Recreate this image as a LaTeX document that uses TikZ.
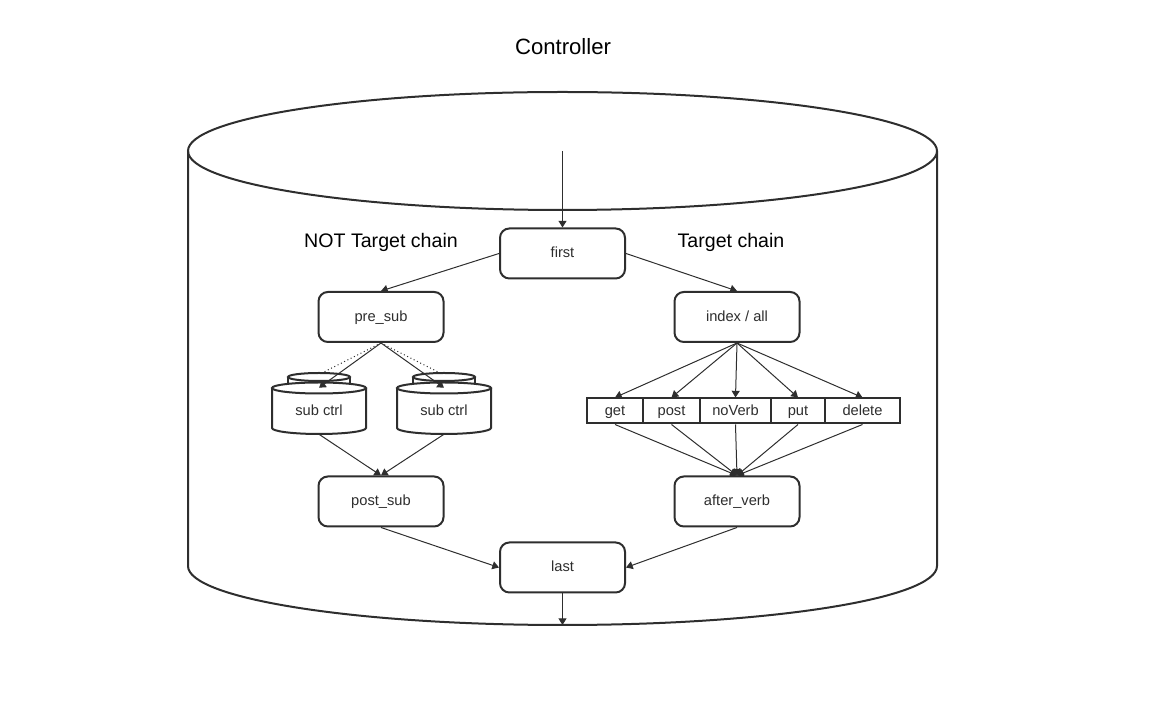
\documentclass[tikz,border=0pt]{standalone}
\usepackage{fontspec}
\setmainfont{Liberation Sans}
\usetikzlibrary{arrows.meta}
\definecolor{ink}{HTML}{2E2E2E}
\begin{document}
\begin{tikzpicture}[x=0.75pt,y=-0.75pt,
  line/.style={draw=ink, line width=0.75pt},
  arr/.style={line, -{Triangle[length=5pt,width=6pt]}},
  dots/.style={draw=ink, line width=0.75pt, dotted},
  shell/.style={draw=ink, line width=1.5pt},
  label/.style={font=\fontsize{11}{13}\selectfont, text=ink, text height=1.6ex, text depth=0.4ex},
  box/.style={shell, label, rounded corners=7pt, fill=white, minimum width=93.75pt,
    minimum height=37.5pt, inner sep=0pt},
  cell/.style={shell, label, fill=white, minimum height=18.75pt, inner sep=0pt},
  cyltext/.style={label, minimum width=70.5pt, minimum height=34.5pt, inner sep=0pt},
  title/.style={font=\fontsize{16.6}{19}\selectfont, text=black},
  chain/.style={font=\fontsize{14.7}{17}\selectfont, text=black},
  stack/.pic={
    % cylinder standing behind
    \draw[shell, fill=white] (-31,377) -- (-31,390) -- (31,390) -- (31,377);
    \draw[shell, fill=white] (0,377) ellipse[x radius=23.25pt, y radius=3pt];
    % front cylinder
    \draw[shell, fill=white] (-47,388) -- (-47,428)
      arc[start angle=180, end angle=360, x radius=35.25pt, y radius=4.5pt] -- (47,388);
    \draw[shell, fill=white] (0,388) ellipse[x radius=35.25pt, y radius=4.125pt];
  }]
\useasboundingbox (0,0) rectangle (1165,705);

% controller cylinder
\draw[shell] (188,151) -- (188,566)
  arc[start angle=180, end angle=360, x radius=280.875pt, y radius=44.25pt] -- (937,151);
\draw[shell] (562.5,151) ellipse[x radius=280.875pt, y radius=44.25pt];

\node[title] (ctl) at (563,47) {Controller};
\node[chain] (notchain) at (381,242) {NOT Target chain};
\node[chain] (tchain) at (731,242) {Target chain};

\coordinate (entry) at (562.5,151);
\coordinate (exit) at (562.5,625);

% main boxes
\node[box] (first) at (562.5,253.5) {first};
\node[box] (pre) at (381,317) {pre\_sub};
\node[box] (index) at (737,317) {index / all};
\node[box] (post) at (381,501.5) {post\_sub};
\node[box] (after) at (737,501.5) {after\_verb};
\node[box] (last) at (562.5,567.5) {last};

% sub controllers
\pic at (319,0) {stack};
\pic at (444,0) {stack};
\node[cyltext] (sc1) at (319,411) {sub ctrl};
\node[cyltext] (sc2) at (444,411) {sub ctrl};
\coordinate (bk1) at (320,374);
\coordinate (bk2) at (442,374);

% verb cells
\node[cell, minimum width=42pt] (get) at (615,411) {get};
\node[cell, minimum width=42.75pt] (vpost) at (671.5,411) {post};
\node[cell, minimum width=53.25pt] (nov) at (735.5,411) {noVerb};
\node[cell, minimum width=40.5pt] (put) at (798,411) {put};
\node[cell, minimum width=56.25pt] (del) at (862.5,411) {delete};

% connectors
\draw[arr] (entry) -- (first.north);
\draw[arr] (first.west) -- (pre.north);
\draw[arr] (first.east) -- (index.north);

\draw[dots] (pre.south) -- (bk1);
\draw[dots] (pre.south) -- (bk2);
\draw[arr] (pre.south) -- (sc1.north);
\draw[arr] (pre.south) -- (sc2.north);
\draw[arr] (sc1.south) -- (post.north);
\draw[arr] (sc2.south) -- (post.north);

\foreach \v in {get,vpost,nov,put,del}{
  \draw[arr] (index.south) -- (\v.north);
  \draw[arr] (\v.south) -- (after.north);
}

\draw[arr] (post.south) -- (last.west);
\draw[arr] (after.south) -- (last.east);
\draw[arr] (last.south) -- (exit);
\end{tikzpicture}
\end{document}
